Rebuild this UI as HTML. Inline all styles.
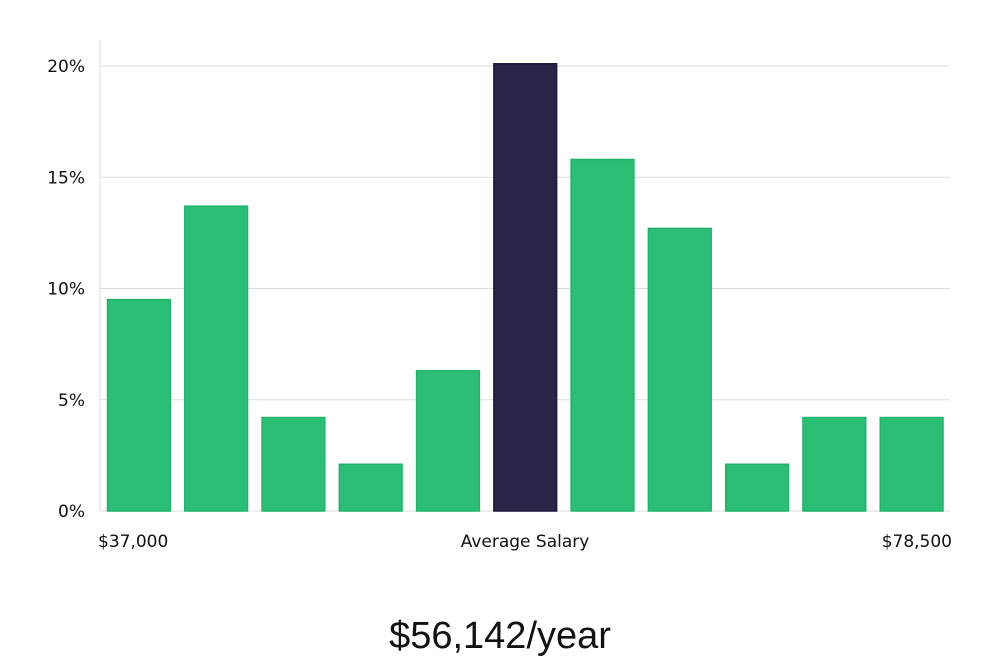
<!DOCTYPE html>
<html><head><meta charset="utf-8"><style>
html,body{margin:0;padding:0;background:#fff;width:1000px;height:660px;overflow:hidden;font-family:"Liberation Sans","DejaVu Sans",sans-serif;}
svg text{font-family:"DejaVu Sans","Liberation Sans",sans-serif;}
</style></head><body>
<svg id="chart" width="1000" height="660" xmlns="http://www.w3.org/2000/svg">
<g id="grid"></g><g id="bars"></g><g id="labels"></g>
<text x="98" y="547" font-size="17" fill="#111">$37,000</text>
<text x="525" y="547" font-size="17" fill="#111" text-anchor="middle">Average Salary</text>
<text x="952" y="547" font-size="17" fill="#111" text-anchor="end">$78,500</text>
<text x="500" y="648" font-size="38" fill="#111" text-anchor="middle" style="font-family:'Liberation Sans',sans-serif;font-weight:300">$56,142/year</text>
</svg>
<script>
const categories = ["b1","b2","b3","b4","b5","b6","b7","b8","b9","b10","b11"];
const values = [9.5, 13.7, 4.2, 2.1, 6.3, 20.1, 15.8, 12.7, 2.1, 4.2, 4.2];
const highlightIndex = 5;
const yTicks = [0, 5, 10, 15, 20];
const yTickLabels = ["0%", "5%", "10%", "15%", "20%"];

const x0 = 100, x1 = 950, y0 = 511, yTop = 66, yMax = 20;
const yScale = v => y0 - (v / yMax) * (y0 - yTop);
const slot = (x1 - x0) / categories.length;
const xScale = i => x0 + i * slot;
const NS = "http://www.w3.org/2000/svg";
const grid = document.getElementById("grid");
const bars = document.getElementById("bars");
const labels = document.getElementById("labels");

const axis = document.createElementNS(NS, "line");


axis.setAttribute("x1", x0); axis.setAttribute("x2", x0);
axis.setAttribute("y1", 40); axis.setAttribute("y2", y0);
axis.setAttribute("stroke", "#ddd");
grid.appendChild(axis);

yTicks.forEach((t, i) => {
  const y = yScale(t);
  const l = document.createElementNS(NS, "line");
  
  
  l.setAttribute("x1", x0); l.setAttribute("x2", x1);
  l.setAttribute("y1", y); l.setAttribute("y2", y);
  l.setAttribute("stroke", "#ddd");
  grid.appendChild(l);
  const tx = document.createElementNS(NS, "text");
  
  
  tx.setAttribute("x", 85); tx.setAttribute("y", y + 6);
  tx.setAttribute("text-anchor", "end");
  tx.setAttribute("font-size", "17");
  tx.setAttribute("fill", "#111");
  tx.textContent = yTickLabels[i];
  labels.appendChild(tx);
});

values.forEach((v, i) => {
  const r = document.createElementNS(NS, "rect");
  
  
  const y = yScale(v);
  r.setAttribute("x", xScale(i) + 7.5);
  r.setAttribute("width", slot - 14.5);
  r.setAttribute("y", y);
  r.setAttribute("height", y0 - y);
  const hi = i === highlightIndex;
  r.setAttribute("fill", hi ? "#2a2546" : "#2bbf76");
  r.setAttribute("stroke", hi ? "#1c1838" : "#22b36a");
  r.setAttribute("stroke-width", "1.5");
  bars.appendChild(r);
});
</script>
</body></html>
